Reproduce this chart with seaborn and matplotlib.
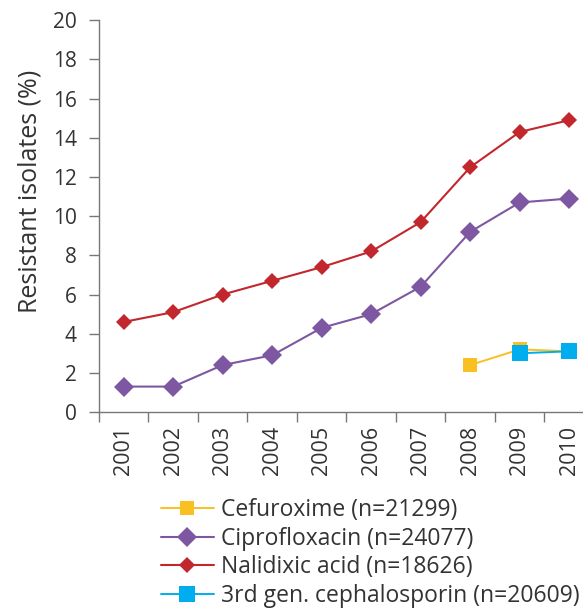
import matplotlib
matplotlib.use("Agg")
import matplotlib.pyplot as plt
import numpy as np
import pandas as pd
import seaborn as sns

years = ["2001", "2002", "2003", "2004", "2005", "2006", "2007", "2008", "2009", "2010"]
nalidixic = [4.6, 5.1, 6.0, 6.7, 7.4, 8.2, 9.7, 12.5, 14.3, 14.9]
ciprofloxacin = [1.3, 1.3, 2.4, 2.9, 4.3, 5.0, 6.4, 9.2, 10.7, 10.9]
cefuroxime_years = ["2008", "2009", "2010"]
cefuroxime = [2.4, 3.2, 3.1]
ceph3_years = ["2009", "2010"]
ceph3 = [3.0, 3.1]

labels = ["Cefuroxime (n=21299)", "Ciprofloxacin (n=24077)",
          "Nalidixic acid (n=18626)", "3rd gen. cephalosporin (n=20609)"]

sns.set_theme(style="white")
plt.rcParams["font.family"] = ["Open Sans", "DejaVu Sans"]
text_col = "#333333"
axis_col = "#777777"

fig = plt.figure(figsize=(5.83, 6.15), dpi=100)
ax = fig.add_axes([0.1698, 0.330, 0.849, 0.637])

pos = {y: i for i, y in enumerate(years)}

series = [
    (labels[0], cefuroxime_years, cefuroxime, "#F8C020", "s", 10.5, 1.4),
    (labels[1], years, ciprofloxacin, "#7E57A2", "D", 10, 1.5),
    (labels[2], years, nalidixic, "#C1272D", "D", 8.5, 1.5),
    (labels[3], ceph3_years, ceph3, "#00AEEF", "s", 11, 1.4),
]

# nalidixic first, cephalosporin on top
for i in [2, 1, 0, 3]:
    name, yrs, vals, col, mk, ms, lw = series[i]
    df = pd.DataFrame({"x": [pos[y] for y in yrs], "v": vals})
    sns.lineplot(data=df, x="x", y="v", ax=ax, color=col, marker=mk,
                 markersize=ms, markeredgewidth=0, linewidth=lw, label=name)

ax.set_xlim(-0.5, 9.5)
ax.set_ylim(0, 20)
ax.set_yticks(np.arange(0, 21, 2))
ax.set_xticks(range(len(years)))
ax.set_xticklabels(years, rotation=90)
ax.set_xticks(np.arange(-0.5, 10, 1), minor=True)
ax.tick_params(axis="x", which="major", length=0, pad=10, labelsize=15.5, colors=text_col)
ax.tick_params(axis="x", which="minor", length=7, width=1, color=axis_col, direction="out", bottom=True)
ax.tick_params(axis="y", length=7, width=1, color=axis_col, direction="out", left=True,
               labelsize=15, labelcolor=text_col, pad=9)
for s in ["top", "right"]:
    ax.spines[s].set_visible(False)
for s in ["left", "bottom"]:
    ax.spines[s].set_color(axis_col)
    ax.spines[s].set_linewidth(1)

ax.set_xlabel("")
ax.set_ylabel("Resistant isolates (%)", fontsize=18, color=text_col)
ax.yaxis.set_label_coords(-0.115, 0.564)

handles, lbls = ax.get_legend_handles_labels()
order = [lbls.index(l) for l in labels]
leg = ax.legend([handles[k] for k in order], [lbls[k] for k in order],
                loc="upper left", bbox_to_anchor=((161 / 583 - 0.1698) / 0.849, -0.22),
                frameon=False, fontsize=16.5, handlelength=2.3, handletextpad=0.3,
                labelspacing=0.2, borderaxespad=0, borderpad=0)
for t in leg.get_texts():
    t.set_color(text_col)

fig.savefig("out.png", dpi=100)
